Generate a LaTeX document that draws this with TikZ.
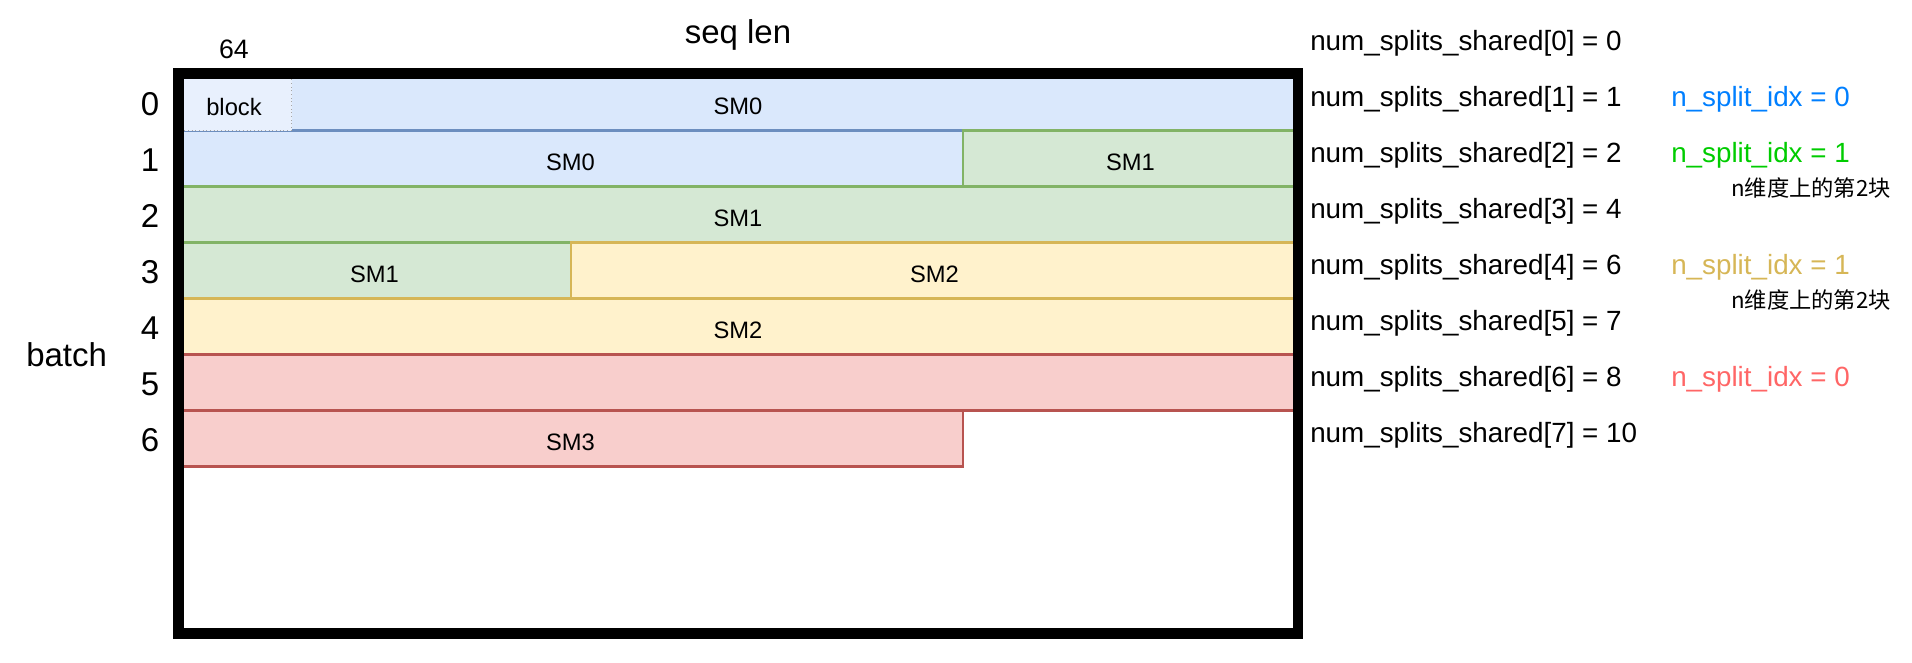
\documentclass[tikz,border=0pt]{standalone}
\usepackage{fontspec}
\setmainfont{Liberation Sans}
\newfontfamily\cjk{Noto Sans CJK SC}

\definecolor{blueF}{HTML}{DAE8FC}
\definecolor{blueD}{HTML}{6C8EBF}
\definecolor{greenF}{HTML}{D5E8D4}
\definecolor{greenD}{HTML}{82B366}
\definecolor{yellowF}{HTML}{FFF2CC}
\definecolor{yellowD}{HTML}{D6B656}
\definecolor{redF}{HTML}{F8CECC}
\definecolor{redD}{HTML}{B85450}
\definecolor{blockF}{HTML}{E8F0FD}
\definecolor{idxBlue}{HTML}{007FFF}
\definecolor{idxGreen}{HTML}{00CC00}
\definecolor{idxYellow}{HTML}{D6B656}
\definecolor{idxRed}{HTML}{FF6666}

\begin{document}
\begin{tikzpicture}[x=0.75pt,y=-0.75pt,line join=miter,
    cell/.style={line width=1.8pt},
    smblue/.style={cell,draw=blueD,fill=blueF},
    smgreen/.style={cell,draw=greenD,fill=greenF},
    smyellow/.style={cell,draw=yellowD,fill=yellowF},
    smred/.style={cell,draw=redD,fill=redF},
    smtext/.style={inner sep=0pt,anchor=base,font=\fontsize{17.8}{21}\selectfont},
    rowtext/.style={inner sep=0pt,anchor=base,font=\fontsize{24.75}{30}\selectfont},
    axistext/.style={inner sep=0pt,anchor=base,font=\fontsize{24.75}{30}\selectfont},
    nsstext/.style={inner sep=0pt,anchor=base west,font=\fontsize{20.85}{25}\selectfont},
    notetext/.style={inner sep=0pt,anchor=west,font=\cjk\fontsize{16.7}{20}\selectfont}]
    \useasboundingbox (0,0) rectangle (1912,662);

    % rows of the batch
    \draw[smblue] (178,74.5) rectangle (1298,130.5);
    \draw[smblue] (178,130.5) rectangle (963,186.5);
    \draw[smgreen] (963,130.5) rectangle (1298,186.5);
    \draw[smgreen] (178,186.5) rectangle (1298,242.5);
    \draw[smgreen] (178,242.5) rectangle (571,298.5);
    \draw[smyellow] (571,242.5) rectangle (1298,298.5);
    \draw[smyellow] (178,298.5) rectangle (1298,354.5);
    \draw[smred] (178,354.5) rectangle (1298,410.5);
    \draw[smred] (178,410.5) rectangle (963,466.5);
    \draw[line width=0.75pt,draw=gray!70,dotted,fill=blockF] (178,74.5) rectangle (291.7,130.5);

    % frame
    \draw[line width=8pt] (178.3,73.8) rectangle (1298,633.8);

    \node[smtext] (blk) at (234,115) {block};
    \node[smtext] (sm0a) at (738,114.5) {SM0};
    \node[smtext] (sm0b) at (570.5,170.5) {SM0};
    \node[smtext] (sm1a) at (1130.5,170.5) {SM1};
    \node[smtext] (sm1b) at (738,226.5) {SM1};
    \node[smtext] (sm1c) at (374.5,282.5) {SM1};
    \node[smtext] (sm2a) at (934.5,282.5) {SM2};
    \node[smtext] (sm2b) at (738,338.5) {SM2};
    \node[smtext] (sm3) at (570.5,450.5) {SM3};

    \foreach \r in {0,...,6} {
        \node[rowtext] (row\r) at (150,{115+56*\r}) {\r};
    }
    \node[rowtext,font=\fontsize{20}{24}\selectfont] (width) at (234,58.3) {64};
    \node[axistext] (seqlen) at (738,43.3) {seq len};
    \node[axistext,anchor=base west] (batch) at (26,366.7) {batch};

    \foreach \k/\v in {0/0,1/1,2/2,3/4,4/6,5/7,6/8,7/10} {
        \node[nsstext] (nss\k) at (1310,{50.7+56*\k}) {num\_splits\_shared[\k] = \v};
    }
    \node[nsstext,text=idxBlue] (idx1) at (1671,106.7) {n\_split\_idx = 0};
    \node[nsstext,text=idxGreen] (idx2) at (1671,162.7) {n\_split\_idx = 1};
    \node[nsstext,text=idxYellow] (idx4) at (1671,274.7) {n\_split\_idx = 1};
    \node[nsstext,text=idxRed] (idx6) at (1671,386.7) {n\_split\_idx = 0};
    \node[notetext] (note2) at (1731,188) {n维度上的第2块};
    \node[notetext] (note4) at (1731,300) {n维度上的第2块};
\end{tikzpicture}
\end{document}
